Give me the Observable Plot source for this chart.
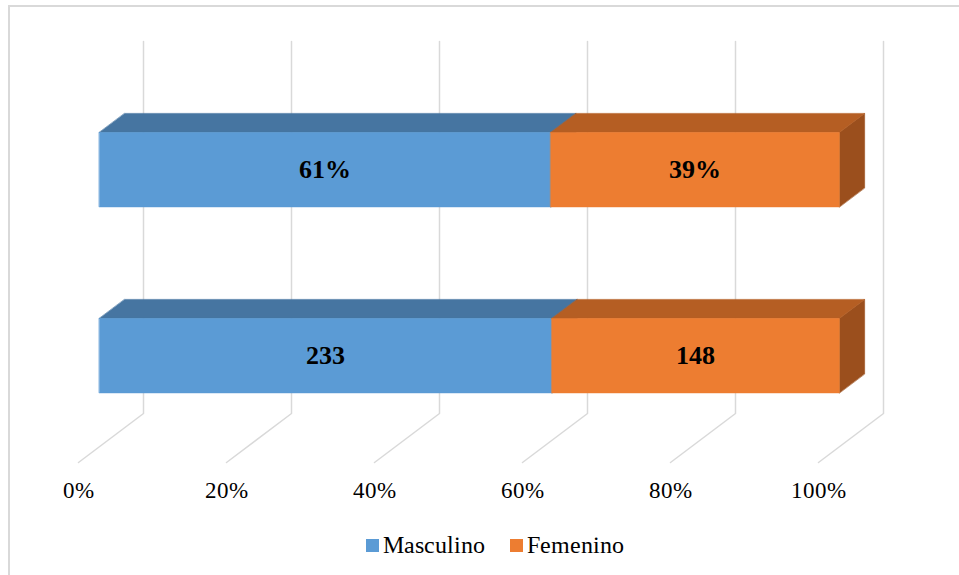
<!DOCTYPE html>
<html>
<head>
<meta charset="utf-8">
<title>Distribución por sexo</title>
<script src="https://cdn.jsdelivr.net/npm/d3@7"></script>
<script src="https://cdn.jsdelivr.net/npm/@observablehq/plot@0.6"></script>
<style>
  /* Serif face taken straight from the installed font file */
  @font-face { font-family: "SerifLocal"; font-weight: 400;
               src: local("Liberation Serif"), local("LiberationSerif"), local("Liberation Serif Regular"); }
  @font-face { font-family: "SerifLocal"; font-weight: 700;
               src: local("Liberation Serif Bold"), local("LiberationSerif-Bold"); }
  html, body { margin: 0; padding: 0; background: #fff; }
  #chart { position: relative; width: 959px; height: 575px; overflow: hidden;
           font-family: "SerifLocal", "Liberation Serif", serif; }
  #frame { position: absolute; left: 8px; top: 5px; width: 1000px; height: 600px;
           border-left: 2px solid #D9D9D9; border-top: 2px solid #D9D9D9; box-sizing: border-box; }
  #plot { position: absolute; left: 0; top: 0; }
  #legend { position: absolute; left: 366px; top: 531px; height: 28px;
            display: flex; align-items: center; color: #000; font-size: 23.5px; white-space: nowrap; }
  .item { display: flex; align-items: center; }
  .item + .item { margin-left: 25px; }
  .swatch { display: inline-block; width: 13px; height: 13px; margin-right: 4px; }
</style>
</head>
<body>
<div id="chart">
  <div id="frame"></div>
  <div id="plot"></div>
  <div id="legend"></div>
</div>
<script>
// Two stacked 100% bars: top row in percentages, bottom row in counts
const filas = ["Porcentaje", "Frecuencia"];
const generos = ["Masculino", "Femenino"];
const porcentajes = [61, 39];
const frecuencias = [233, 148];
const marcasEje = [0, 20, 40, 60, 80, 100];

// Face colours per series (front, top, right side)
const coloresFrente = ["#5B9BD5", "#ED7D31"];
const coloresSuperior = ["#4675A1", "#B55E23"];
const coloresLateral = ["#3E6790", "#9B4F1D"];

const fuente = "SerifLocal, Liberation Serif, serif";

// Oblique projection: depth 0 = front of the floor, depth 1 = back wall
const PROF_X = 8.784;   // x units (percent) per unit of depth
const PROF_Y = 0.1317;  // y units per unit of depth
const D0 = 0.32, D1 = 0.71;   // depth span of the bars
const GROSOR = 0.2;           // bar thickness in y units
const centros = [0.745, 0.245];
const proy = (v, h, d) => ({x: v + d * PROF_X, y: h + d * PROF_Y});

const valoresFila = [porcentajes, frecuencias];
const etiquetasFila = [porcentajes.map(p => `${p}%`), frecuencias.map(String)];

// Stack each row to 100%
const segmentos = [];
filas.forEach((fila, i) => {
  const vals = valoresFila[i];
  const total = d3.sum(vals);
  let acc = 0;
  vals.forEach((v, j) => {
    const x1 = acc / total * 100;
    acc += v;
    const x2 = acc / total * 100;
    segmentos.push({fila, genero: generos[j], j, x1, x2, centro: centros[i], etiqueta: etiquetasFila[i][j]});
  });
});

// Faces of each box, drawn back to front
const caras = [];
const agregar = (id, color, vertices) =>
  vertices.forEach(([v, h, d]) => caras.push({cara: id, color, ...proy(v, h, d)}));
segmentos.forEach((s, k) => {
  const yb = s.centro - GROSOR / 2, yt = s.centro + GROSOR / 2;
  agregar(`l${k}`, coloresLateral[s.j], [[s.x2, yb, D0], [s.x2, yt, D0], [s.x2, yt, D1], [s.x2, yb, D1]]);
  agregar(`s${k}`, coloresSuperior[s.j], [[s.x1, yt, D0], [s.x2, yt, D0], [s.x2, yt, D1], [s.x1, yt, D1]]);
  agregar(`f${k}`, coloresFrente[s.j], [[s.x1, yb, D0], [s.x2, yb, D0], [s.x2, yt, D0], [s.x1, yt, D0]]);
});

// Gridlines: up the back wall, then across the floor to the front
const rejilla = marcasEje.flatMap(t =>
  [proy(t, 1, 1), proy(t, 0, 1), proy(t, 0, 0)].map(p => ({t, ...p})));

const grafico = Plot.plot({
  width: 959,
  height: 525,
  marginLeft: 78,
  marginRight: 141,
  marginTop: 90,
  marginBottom: 63,
  style: {background: "transparent", overflow: "visible", fontFamily: fuente},
  x: {domain: [0, 100]},
  y: {domain: [0, 1], axis: null},
  color: {type: "identity"},
  marks: [
    Plot.line(rejilla, {x: "x", y: "y", z: "t", stroke: "#D9D9D9", strokeWidth: 1.5}),
    Plot.line(caras, {x: "x", y: "y", z: "cara", fill: "color", stroke: "color",
                      strokeWidth: 0.6, curve: "linear-closed"}),
    Plot.text(segmentos, {
      x: s => (s.x1 + s.x2) / 2 + D0 * PROF_X,
      y: s => s.centro + D0 * PROF_Y,
      text: "etiqueta", fontWeight: "bold", fontSize: 25.5, fontFamily: fuente, fill: "#000"
    }),
    Plot.axisX({ticks: marcasEje, tickFormat: d => `${d}%`, tickSize: 0, tickPadding: 19,
                fontSize: 23, fontFamily: fuente, fill: "#000", label: null})
  ]
});
document.getElementById("plot").appendChild(grafico);

// Legend
const leyenda = document.getElementById("legend");
generos.forEach((g, j) => {
  const item = document.createElement("div");
  item.className = "item";
  const sw = document.createElement("span");
  sw.className = "swatch";
  sw.style.background = coloresFrente[j];
  const tx = document.createElement("span");
  tx.textContent = g;
  item.append(sw, tx);
  leyenda.appendChild(item);
});
</script>
</body>
</html>
